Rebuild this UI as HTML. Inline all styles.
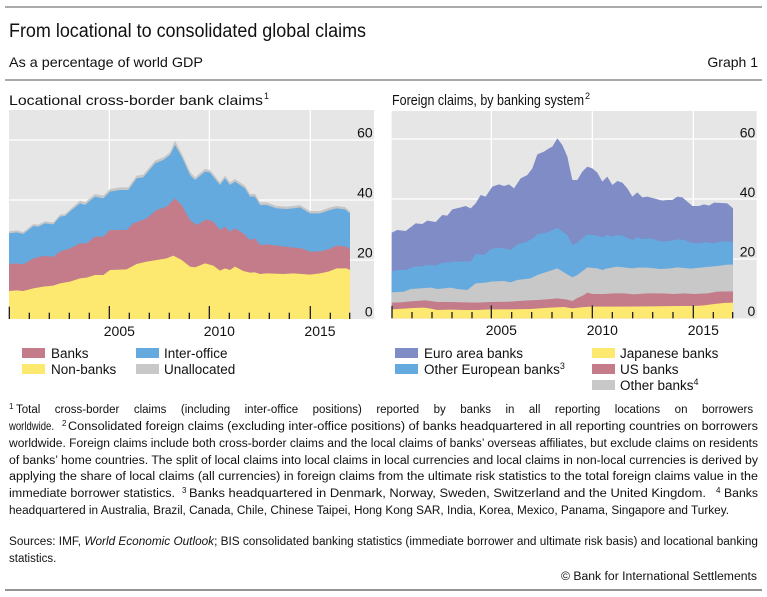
<!DOCTYPE html>
<html><head><meta charset="utf-8"><style>
html,body{margin:0;padding:0;background:#fff;}
svg{display:block;font-family:"Liberation Sans",sans-serif;}
</style></head><body>
<svg width="767" height="597" viewBox="0 0 767 597" xmlns="http://www.w3.org/2000/svg">
<line x1="5" y1="7" x2="762" y2="7" stroke="#555" stroke-width="1"/>
<text x="9" y="37" font-size="19" textLength="357" lengthAdjust="spacingAndGlyphs" fill="#111">From locational to consolidated global claims</text>
<text x="9" y="67" font-size="14" textLength="194" lengthAdjust="spacingAndGlyphs" fill="#111">As a percentage of world GDP</text>
<text x="758" y="67" font-size="14" text-anchor="end" fill="#111">Graph 1</text>
<line x1="5" y1="80" x2="762" y2="80" stroke="#555" stroke-width="1"/>
<text x="9" y="105" font-size="14" fill="#111" textLength="254" lengthAdjust="spacingAndGlyphs">Locational cross-border bank claims</text>
<text x="264" y="99" font-size="9" fill="#111">1</text>
<text x="392" y="105" font-size="15" fill="#111" textLength="192" lengthAdjust="spacingAndGlyphs">Foreign claims, by banking system</text>
<text x="585" y="99" font-size="9" fill="#111">2</text>

<!-- LEFT CHART (zoom coords) -->
<g transform="translate(0,100) scale(0.3333333)">
<rect x="27" y="30" width="1095" height="627" fill="#e6e6e6"/>
<g stroke="#fff" stroke-width="4">
<line x1="27" y1="120" x2="1122" y2="120"/><line x1="27" y1="300" x2="1122" y2="300"/><line x1="27" y1="480" x2="1122" y2="480"/>
<line x1="328" y1="30" x2="328" y2="657"/><line x1="628" y1="30" x2="628" y2="657"/><line x1="931" y1="30" x2="931" y2="657"/>
</g>
<polygon fill="#c6c6c6" points="27,657 27,394 50,391 70,396 100,372 115,374 135,364 160,367 180,344 195,342 215,324 240,302 255,307 285,282 310,287 330,267 360,262 385,262 410,227 430,224 465,182 490,172 510,157 525,122 545,160 570,215 585,232 615,207 630,210 660,247 675,227 690,247 705,237 735,257 750,282 765,282 780,307 800,307 830,318 860,320 880,318 900,315 930,333 960,333 990,322 1010,318 1035,321 1050,335 1050,657"/>
<polygon fill="#64aadf" points="27,657 27,400 50,397 70,402 100,378 115,380 135,370 160,373 180,350 195,348 215,330 240,310 255,315 285,290 310,295 330,275 360,270 385,270 410,235 430,232 465,190 490,180 510,165 525,135 545,170 570,225 585,240 615,215 630,218 660,255 675,235 690,255 705,245 735,265 750,290 765,290 780,315 800,315 830,325 860,327 880,325 900,322 930,340 960,340 990,330 1010,325 1035,328 1050,340 1050,657"/>
<polygon fill="#c47c8b" points="27,657 27,492 50,490 70,493 100,475 130,468 160,470 180,455 210,445 240,430 260,430 285,410 310,410 330,390 380,390 400,370 440,355 470,330 500,320 525,295 545,315 570,360 590,375 620,358 640,365 660,390 675,380 690,395 705,385 730,400 750,420 765,415 780,435 800,433 830,437 855,440 880,443 905,445 930,455 960,454 985,448 1010,437 1040,440 1050,448 1050,657"/>
<polygon fill="#fde970" points="27,657 27,573 50,571 70,573 100,565 130,560 160,557 180,550 210,545 240,535 260,533 285,525 310,525 330,510 380,508 410,492 440,485 470,480 500,475 520,467 545,480 570,500 585,502 615,490 640,497 660,512 675,505 690,510 705,500 730,513 750,518 765,517 780,522 800,520 850,522 880,520 905,522 930,524 960,520 985,515 1010,505 1040,505 1050,510 1050,657"/>
<g stroke="#222" stroke-width="4">
<line x1="28" y1="620" x2="28" y2="657"/><line x1="88" y1="638" x2="88" y2="657"/><line x1="148" y1="638" x2="148" y2="657"/><line x1="208" y1="638" x2="208" y2="657"/><line x1="268" y1="638" x2="268" y2="657"/><line x1="328" y1="618" x2="328" y2="657"/><line x1="388" y1="638" x2="388" y2="657"/><line x1="448" y1="638" x2="448" y2="657"/><line x1="508" y1="638" x2="508" y2="657"/><line x1="568" y1="638" x2="568" y2="657"/><line x1="628" y1="618" x2="628" y2="657"/><line x1="688" y1="638" x2="688" y2="657"/><line x1="748" y1="638" x2="748" y2="657"/><line x1="808" y1="638" x2="808" y2="657"/><line x1="868" y1="638" x2="868" y2="657"/><line x1="931" y1="618" x2="931" y2="657"/><line x1="991" y1="638" x2="991" y2="657"/><line x1="1049" y1="638" x2="1049" y2="657"/>
</g>
<g font-size="42" fill="#111" text-anchor="end">
<text x="1118" y="113">60</text><text x="1118" y="292">40</text><text x="1118" y="472">20</text><text x="1118" y="650">0</text>
</g>
<g font-size="42" fill="#111" text-anchor="middle">
<text x="358" y="708">2005</text><text x="658" y="708">2010</text><text x="960" y="708">2015</text>
</g>
</g>

<!-- RIGHT CHART -->
<g transform="translate(384,100) scale(0.3333333)">
<rect x="23" y="33" width="1095" height="622" fill="#e6e6e6"/>
<g stroke="#fff" stroke-width="4">
<line x1="23" y1="117" x2="1118" y2="117"/><line x1="23" y1="297" x2="1118" y2="297"/><line x1="23" y1="477" x2="1118" y2="477"/>
<line x1="322" y1="33" x2="322" y2="655"/><line x1="625" y1="33" x2="625" y2="655"/><line x1="928" y1="33" x2="928" y2="655"/>
</g>
<polygon fill="#7f8cc6" points="23,655 23,398 40,390 65,393 95,370 115,372 130,362 155,366 175,345 190,347 205,328 230,322 245,318 260,325 275,310 290,285 305,290 325,260 345,253 360,258 375,253 390,265 410,235 430,225 445,205 460,163 480,155 495,145 505,140 520,115 535,135 550,170 565,240 580,240 595,215 610,200 625,205 640,218 655,245 670,230 685,255 700,243 715,248 730,265 745,290 760,277 775,292 790,290 810,295 835,302 850,300 865,300 880,290 895,292 910,305 925,318 945,318 960,313 975,317 990,308 1030,310 1047,325 1047,655"/>
<polygon fill="#64aadf" points="23,655 23,515 40,510 65,510 90,500 110,500 130,495 155,497 175,488 195,487 210,485 245,485 260,485 275,462 300,465 320,448 340,443 360,445 380,450 400,433 430,425 450,413 460,402 480,400 500,393 520,383 535,395 550,405 565,435 580,428 595,415 610,403 640,407 655,412 670,405 685,410 700,405 715,407 745,420 760,412 775,417 800,415 835,425 865,422 880,418 900,420 920,428 945,430 965,426 990,430 1010,425 1035,425 1047,428 1047,655"/>
<polygon fill="#c8c8c8" points="23,655 23,577 60,575 80,567 110,565 140,563 160,567 180,565 200,563 220,567 250,570 275,550 305,548 320,545 360,543 380,547 400,540 440,535 460,525 500,512 520,505 545,520 565,532 580,525 610,502 640,505 655,510 670,505 700,500 745,505 760,503 790,503 830,507 860,505 880,502 920,506 950,503 1000,498 1030,494 1047,494 1047,655"/>
<polygon fill="#c47c8b" points="23,655 23,608 50,607 70,605 95,603 125,601 140,603 160,606 200,606 245,607 280,608 320,606 380,605 420,602 460,600 500,597 520,595 545,598 565,603 580,594 600,585 610,578 625,582 660,582 690,580 720,580 750,583 790,580 830,580 870,582 900,580 930,582 970,580 1000,575 1047,574 1047,655"/>
<polygon fill="#fde970" points="23,655 23,628 60,626 90,624 120,623 140,626 160,630 200,629 240,630 280,630 320,628 380,628 440,627 500,623 540,621 565,625 590,622 620,620 700,620 800,619 880,618 930,618 960,616 990,612 1020,609 1047,608 1047,655"/>
<g stroke="#222" stroke-width="4">
<line x1="24" y1="618" x2="24" y2="655"/><line x1="84" y1="636" x2="84" y2="655"/><line x1="144" y1="636" x2="144" y2="655"/><line x1="204" y1="636" x2="204" y2="655"/><line x1="264" y1="636" x2="264" y2="655"/><line x1="322" y1="616" x2="322" y2="655"/><line x1="383" y1="636" x2="383" y2="655"/><line x1="443" y1="636" x2="443" y2="655"/><line x1="504" y1="636" x2="504" y2="655"/><line x1="564" y1="636" x2="564" y2="655"/><line x1="625" y1="616" x2="625" y2="655"/><line x1="685" y1="636" x2="685" y2="655"/><line x1="746" y1="636" x2="746" y2="655"/><line x1="806" y1="636" x2="806" y2="655"/><line x1="867" y1="636" x2="867" y2="655"/><line x1="928" y1="616" x2="928" y2="655"/><line x1="988" y1="636" x2="988" y2="655"/><line x1="1046" y1="636" x2="1046" y2="655"/>
</g>
<g font-size="42" fill="#111" text-anchor="end">
<text x="1114" y="112">60</text><text x="1114" y="291">40</text><text x="1114" y="470">20</text><text x="1114" y="648">0</text>
</g>
<g font-size="42" fill="#111" text-anchor="middle">
<text x="352" y="705">2005</text><text x="655" y="705">2010</text><text x="958" y="705">2015</text>
</g>
</g>

<!-- LEGENDS -->
<g font-size="13.5" fill="#111">
<rect x="22" y="348" width="23" height="10" fill="#c47c8b"/><text x="51" y="358">Banks</text>
<rect x="22" y="364" width="23" height="10" fill="#fde970"/><text x="51" y="374">Non-banks</text>
<rect x="136" y="348" width="23" height="10" fill="#64aadf"/><text x="164" y="358">Inter-office</text>
<rect x="136" y="364" width="23" height="10" fill="#c8c8c8"/><text x="164" y="374">Unallocated</text>

<rect x="395" y="348" width="23" height="10" fill="#7f8cc6"/><text x="424" y="358">Euro area banks</text>
<rect x="395" y="364" width="23" height="10" fill="#64aadf"/><text x="424" y="374">Other European banks<tspan font-size="9" dy="-5">3</tspan></text>
<rect x="592" y="348" width="23" height="10" fill="#fde970"/><text x="620" y="358">Japanese banks</text>
<rect x="592" y="364" width="23" height="10" fill="#c47c8b"/><text x="620" y="374">US banks</text>
<rect x="592" y="380" width="23" height="10" fill="#c8c8c8"/><text x="620" y="390">Other banks<tspan font-size="9" dy="-5">4</tspan></text>
</g>

<!-- FOOTNOTES -->
<g font-size="11.5" fill="#111">
<text x="9" y="409" font-size="8">1</text>
<text x="16" y="413" font-size="11.5" word-spacing="11.3">Total cross-border claims (including inter-office positions) reported by banks in all reporting locations on borrowers</text>
<text x="9" y="430" font-size="12" textLength="45" lengthAdjust="spacingAndGlyphs">worldwide.</text>
<text x="62" y="426" font-size="8">2</text>
<text x="68" y="430" textLength="690" lengthAdjust="spacingAndGlyphs">Consolidated foreign claims (excluding inter-office positions) of banks headquartered in all reporting countries on borrowers</text>
<text x="9" y="447" textLength="749" lengthAdjust="spacingAndGlyphs">worldwide. Foreign claims include both cross-border claims and the local claims of banks’ overseas affiliates, but exclude claims on residents</text>
<text x="9" y="464" textLength="749" lengthAdjust="spacingAndGlyphs">of banks’ home countries. The split of local claims into local claims in local currencies and local claims in non-local currencies is derived by</text>
<text x="9" y="480" textLength="749" lengthAdjust="spacingAndGlyphs">applying the share of local claims (all currencies) in foreign claims from the ultimate risk statistics to the total foreign claims value in the</text>
<text x="9" y="497" textLength="166" lengthAdjust="spacingAndGlyphs">immediate borrower statistics.</text>
<text x="182" y="493" font-size="8">3</text>
<text x="189" y="497" textLength="517" lengthAdjust="spacingAndGlyphs">Banks headquartered in Denmark, Norway, Sweden, Switzerland and the United Kingdom.</text>
<text x="716" y="493" font-size="8">4</text>
<text x="724" y="497" textLength="34" lengthAdjust="spacingAndGlyphs">Banks</text>
<text x="9" y="514" textLength="720" lengthAdjust="spacingAndGlyphs">headquartered in Australia, Brazil, Canada, Chile, Chinese Taipei, Hong Kong SAR, India, Korea, Mexico, Panama,  Singapore and Turkey.</text>
<text x="9" y="545" textLength="749" lengthAdjust="spacingAndGlyphs">Sources: IMF, <tspan font-style="italic">World Economic Outlook</tspan>; BIS consolidated banking statistics (immediate borrower and ultimate risk basis) and locational banking</text>
<text x="9" y="562">statistics.</text>
<text x="757" y="580" text-anchor="end" textLength="196" lengthAdjust="spacingAndGlyphs">© Bank for International Settlements</text>
</g>
<line x1="5" y1="590" x2="762" y2="590" stroke="#555" stroke-width="1.2"/>
</svg>
</body></html>
